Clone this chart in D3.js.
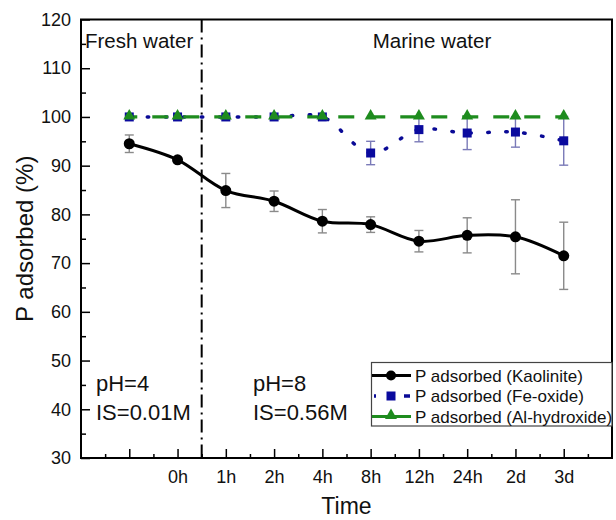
<!DOCTYPE html>
<html lang="en">
  <head>
    <meta charset="utf-8">
    <title>P adsorbed over time</title>
    <style type="text/css">
body { margin: 0; background: #fff; }
svg text { font-family: "Liberation Sans", Arial, sans-serif; fill: #111; }
.axis text { font-size: 18px; }
    </style>
  </head>
  <body>
    <div id="chart"></div>

    <script src="https://cdn.jsdelivr.net/npm/d3@7/dist/d3.min.js"></script>
    <script>
      // categories (index 0 is the unlabelled fresh-water start point)
      var times = ["", "0h", "1h", "2h", "4h", "8h", "12h", "24h", "2d", "3d"];

      var kaolinite    = [94.5, 91.2, 84.9, 82.7, 78.6, 77.9, 74.5, 75.7, 75.4, 71.5];
      var kaoliniteErr = [1.8, 0, 3.5, 2.1, 2.4, 1.6, 2.2, 3.6, 7.6, 6.9];
      var feOxide      = [100, 100, 100, 100, 100, 92.6, 97.4, 96.7, 96.9, 95.1];
      var feOxideErr   = [0, 0, 0, 0, 0, 2.4, 2.5, 3.4, 3.1, 5.0];
      var alHydroxide  = [100, 100, 100, 100, 100, 100, 100, 100, 100, 100];

      var yTicks = [30, 40, 50, 60, 70, 80, 90, 100, 110, 120];

      var width = 616, height = 520;
      var plot = {left: 81, right: 612, top: 19.5, bottom: 458};

      var svg = d3.select("#chart").append("svg")
          .attr("width", width)
          .attr("height", height);

      var x = d3.scaleLinear().domain([-1, 10]).range([plot.left, plot.right]);
      var y = d3.scaleLinear().domain([30, 120]).range([plot.bottom, plot.top]);

      // axes, ticks pointing inward
      var xAxis = svg.append("g")
          .attr("class", "axis")
          .attr("transform", "translate(0," + plot.bottom + ")")
          .call(d3.axisBottom(x)
              .tickValues(d3.range(0, 10))
              .tickFormat(function(d) { return times[d]; })
              .tickSizeInner(-9)
              .tickSizeOuter(0)
              .tickPadding(12));
      xAxis.select(".domain").remove();
      xAxis.selectAll("line").attr("stroke", "#000").attr("stroke-width", 1.5);

      var xMinor = svg.append("g")
          .attr("transform", "translate(0," + plot.bottom + ")")
          .call(d3.axisBottom(x)
              .tickValues(d3.range(-0.5, 10, 1))
              .tickFormat("")
              .tickSizeInner(-4)
              .tickSizeOuter(0));
      xMinor.select(".domain").remove();
      xMinor.selectAll("line").attr("stroke", "#000").attr("stroke-width", 1.5);

      var yAxis = svg.append("g")
          .attr("class", "axis")
          .attr("transform", "translate(" + plot.left + ",0)")
          .call(d3.axisLeft(y)
              .tickValues(yTicks)
              .tickSizeInner(-9)
              .tickSizeOuter(0)
              .tickPadding(10));
      yAxis.select(".domain").remove();
      yAxis.selectAll("line").attr("stroke", "#000").attr("stroke-width", 1.5);

      var yMinor = svg.append("g")
          .attr("transform", "translate(" + plot.left + ",0)")
          .call(d3.axisLeft(y)
              .tickValues(d3.range(35, 120, 10))
              .tickFormat("")
              .tickSizeInner(-5)
              .tickSizeOuter(0));
      yMinor.select(".domain").remove();
      yMinor.selectAll("line").attr("stroke", "#000").attr("stroke-width", 1.5);

      // frame
      svg.append("rect")
          .attr("x", plot.left).attr("y", plot.top)
          .attr("width", plot.right - plot.left).attr("height", plot.bottom - plot.top)
          .attr("fill", "none")
          .attr("stroke", "#000")
          .attr("stroke-width", 2);

      // fresh / marine separator
      svg.append("line")
          .attr("x1", x(1.5)).attr("x2", x(1.5))
          .attr("y1", plot.top).attr("y2", plot.bottom)
          .attr("stroke", "#000")
          .attr("stroke-width", 2)
          .attr("stroke-dasharray", "13,5,2,5");

      // axis titles
      svg.append("text")
          .attr("x", (plot.left + plot.right) / 2)
          .attr("y", 514)
          .attr("text-anchor", "middle")
          .style("font-size", "23px")
          .text("Time");

      svg.append("text")
          .attr("transform", "translate(33," + ((plot.top + plot.bottom) / 2) + ") rotate(-90)")
          .attr("text-anchor", "middle")
          .style("font-size", "24px")
          .text("P adsorbed (%)");

      // annotations
      svg.append("text").attr("x", 85).attr("y", 48)
          .style("font-size", "20.5px").text("Fresh water");
      svg.append("text").attr("x", 432).attr("y", 48)
          .attr("text-anchor", "middle")
          .style("font-size", "20.5px").text("Marine water");
      svg.append("text").attr("x", 96).attr("y", 391)
          .style("font-size", "22px").text("pH=4");
      svg.append("text").attr("x", 96).attr("y", 419.5)
          .style("font-size", "22px").text("IS=0.01M");
      svg.append("text").attr("x", 253).attr("y", 391)
          .style("font-size", "22px").text("pH=8");
      svg.append("text").attr("x", 253).attr("y", 419.5)
          .style("font-size", "22px").text("IS=0.56M");

      var idx = d3.range(times.length);

      function errorBars(vals, errs, color) {
        var g = svg.append("g").attr("stroke", color).attr("stroke-width", 1.4);
        idx.forEach(function(i) {
          if (!errs[i]) return;
          var cx = x(i), y0 = y(vals[i] - errs[i]), y1 = y(vals[i] + errs[i]);
          g.append("line").attr("x1", cx).attr("x2", cx).attr("y1", y0).attr("y2", y1);
          g.append("line").attr("x1", cx - 4.5).attr("x2", cx + 4.5).attr("y1", y0).attr("y2", y0);
          g.append("line").attr("x1", cx - 4.5).attr("x2", cx + 4.5).attr("y1", y1).attr("y2", y1);
        });
      }

      var smooth = d3.line()
          .x(function(i) { return x(i); })
          .curve(d3.curveCatmullRom.alpha(0.5));

      errorBars(kaolinite, kaoliniteErr, "#8a8a8a");
      errorBars(feOxide, feOxideErr, "#7a7ab8");

      // Fe-oxide dotted line
      svg.append("path")
          .datum(idx)
          .attr("fill", "none")
          .attr("stroke", "#0a0a96")
          .attr("stroke-width", 3.5)
          .attr("stroke-linecap", "round")
          .attr("stroke-dasharray", "1.5,16.5")
          .attr("d", smooth.y(function(i) { return y(feOxide[i]); }));

      // Kaolinite solid line
      svg.append("path")
          .datum(idx)
          .attr("fill", "none")
          .attr("stroke", "#000")
          .attr("stroke-width", 3)
          .attr("d", smooth.y(function(i) { return y(kaolinite[i]); }));

      // Al-hydroxide dashed line
      svg.append("path")
          .datum(idx)
          .attr("fill", "none")
          .attr("stroke", "#1e8c1e")
          .attr("stroke-width", 3.2)
          .attr("stroke-dasharray", "16,15")
          .attr("stroke-dashoffset", 8)
          .attr("d", d3.line()
              .x(function(i) { return x(i); })
              .y(function(i) { return y(alHydroxide[i]); }));

      var tri = d3.symbol().type(d3.symbolTriangle).size(62);

      svg.selectAll(".kao").data(idx).enter().append("circle")
          .attr("cx", function(i) { return x(i); })
          .attr("cy", function(i) { return y(kaolinite[i]); })
          .attr("r", 5.5)
          .attr("fill", "#000");

      svg.selectAll(".fe").data(idx).enter().append("rect")
          .attr("x", function(i) { return x(i) - 4.5; })
          .attr("y", function(i) { return y(feOxide[i]) - 4.5; })
          .attr("width", 9).attr("height", 9)
          .attr("fill", "#0a0a9e");

      svg.selectAll(".al").data(idx).enter().append("path")
          .attr("transform", function(i) { return "translate(" + x(i) + "," + (y(alHydroxide[i]) - 1) + ")"; })
          .attr("d", tri)
          .attr("fill", "#1e8c1e");

      // legend
      var legend = svg.append("g");
      legend.append("rect")
          .attr("x", 371.5).attr("y", 362.5)
          .attr("width", plot.right - 371.5).attr("height", 63.5)
          .attr("fill", "#fff")
          .attr("stroke", "#444")
          .attr("stroke-width", 1.2);

      var rows = [
        {name: "P adsorbed (Kaolinite)", y: 375.5},
        {name: "P adsorbed (Fe-oxide)", y: 396},
        {name: "P adsorbed (Al-hydroxide)", y: 416.5}
      ];

      legend.append("line").attr("x1", 372).attr("x2", 411).attr("y1", rows[0].y).attr("y2", rows[0].y)
          .attr("stroke", "#000").attr("stroke-width", 3);
      legend.append("circle").attr("cx", 391).attr("cy", rows[0].y).attr("r", 5).attr("fill", "#000");

      legend.append("line").attr("x1", 374).attr("x2", 410).attr("y1", rows[1].y).attr("y2", rows[1].y)
          .attr("stroke", "#0a0a96").attr("stroke-width", 3.5)
          .attr("stroke-dasharray", "2,28,6,20");
      legend.append("rect").attr("x", 386.5).attr("y", rows[1].y - 4.5).attr("width", 9).attr("height", 9)
          .attr("fill", "#0a0a9e");

      legend.append("line").attr("x1", 372).attr("x2", 411).attr("y1", rows[2].y).attr("y2", rows[2].y)
          .attr("stroke", "#1e8c1e").attr("stroke-width", 3.2);
      legend.append("path").attr("transform", "translate(391," + (rows[2].y - 1) + ")")
          .attr("d", tri).attr("fill", "#1e8c1e");

      legend.selectAll(".lbl").data(rows).enter().append("text")
          .attr("x", 415)
          .attr("y", function(d) { return d.y + 6; })
          .style("font-size", "17px")
          .text(function(d) { return d.name; });
    </script>
  </body>
</html>
